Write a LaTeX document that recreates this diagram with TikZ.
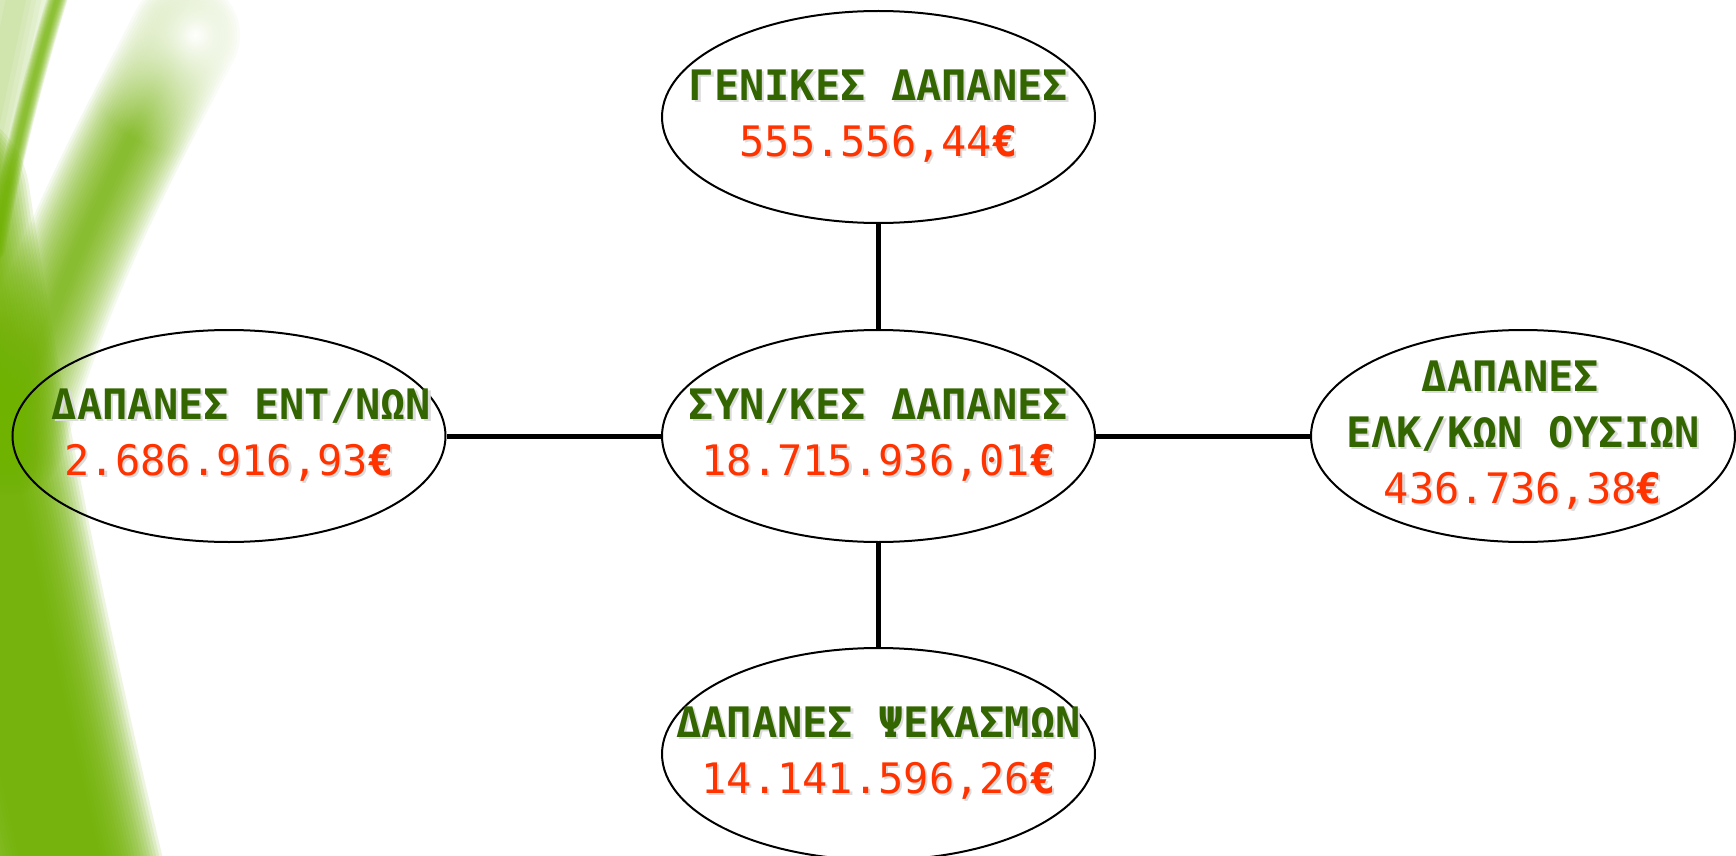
\documentclass[tikz,border=0pt]{standalone}
\usepackage{fontspec}
\newfontfamily\monofont{DejaVu Sans Mono}
\usetikzlibrary{shapes.geometric,fadings}
\definecolor{txtgreen}{RGB}{51,102,0}
\definecolor{txtred}{RGB}{255,51,0}
\definecolor{bggreen}{RGB}{112,178,0}
\tikzfading[name=softdot, inner color=transparent!0, outer color=transparent!100]
\newcommand\shd[2]{\rlap{\kern1.1pt\raisebox{-1.1pt}{\textcolor{black!14}{#2}}}\textcolor{#1}{#2}}
\newcommand\gl[1]{{\bfseries\shd{txtgreen}{#1}}}
\newcommand\rl[1]{\shd{txtred}{#1}}
\newcommand\eur{{\bfseries €}}
\begin{document}
\begin{tikzpicture}[x=0.5pt,y=-0.5pt,
  oval/.style={ellipse, draw=black, line width=1pt, minimum width=216.5pt, minimum height=106pt, inner sep=0pt},
  lbl/.style={align=center, font=\monofont\fontsize{21}{28}\selectfont, inner sep=0pt},
  conn/.style={line width=2.5pt, draw=black},
  glow/.style={bggreen, line cap=round, opacity=0.12}]

\useasboundingbox (0,0) rectangle (1736,856);
\fill[white] (0,0) rectangle (1736,856);

% background swoosh
\begin{scope}
\clip (0,0) rectangle (1736,856);
% pale area top-left
\foreach \w in {10,15,...,40}
  \draw[glow, opacity=0.05] [line width=\w pt] (-20,170) -- (20,-20);
% bottom strip
\foreach \w in {40,43,...,100}
  \draw[glow, line width=\w pt] (-70,200) .. controls (-40,400) and (10,650) .. (70,900);
% main diagonal band
\foreach \w in {5,7.5,...,55}
  \draw[glow, opacity=0.07, line width=\w pt] (185,35) .. controls (120,160) and (60,270) .. (10,440);
% fade the tip of the band
\fill[white, path fading=softdot] (195,35) circle (120);
% narrow streak
\foreach \w in {2,3,...,10}
  \draw[glow, opacity=0.15, line width=\w pt] (-5,250) .. controls (12,160) and (35,70) .. (60,-10);
\end{scope}

% ellipses
\node[oval] (T) at (878.5,117) {};
\node[oval] (C) at (878.5,436) {};
\node[oval] (L) at (229,436) {};
\node[oval, minimum width=212pt] (R) at (1523,436) {};
\node[oval] (B) at (878.5,754) {};

% connectors
\draw[conn] (T) -- (C);
\draw[conn] (C) -- (B);
\draw[conn] (L) -- (C);
\draw[conn] (C) -- (R);

% labels
\node[lbl] (tT) at (T) {\gl{ΓΕΝΙΚΕΣ ΔΑΠΑΝΕΣ}\\\rl{555.556,44\eur}};
\node[lbl] (tC) at (C) {\gl{ΣΥΝ/ΚΕΣ ΔΑΠΑΝΕΣ}\\\rl{18.715.936,01\eur}};
\node[lbl] (tL) at (L) {\gl{\hphantom{Σ}ΔΑΠΑΝΕΣ ΕΝΤ/ΝΩΝ}\\\rl{2.686.916,93\eur}};
\node[lbl] (tR) at (R) {\gl{ΔΑΠΑΝΕΣ\hphantom{Σ}}\\\gl{ΕΛΚ/ΚΩΝ ΟΥΣΙΩΝ}\\\rl{436.736,38\eur}};
\node[lbl] (tB) at (B) {\gl{ΔΑΠΑΝΕΣ ΨΕΚΑΣΜΩΝ}\\\rl{14.141.596,26\eur}};
\end{tikzpicture}
\end{document}
